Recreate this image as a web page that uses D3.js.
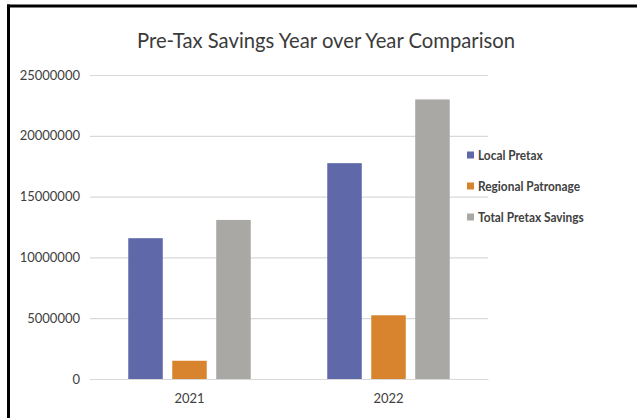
<!DOCTYPE html>
<html>
<head>
<meta charset="utf-8">
<script src="https://cdn.jsdelivr.net/npm/d3@7"></script>
<style>
  html, body { margin: 0; padding: 0; background: #fff; }
  svg { display: block; }
  text { font-family: Lato, "Open Sans", sans-serif; }
</style>
</head>
<body>
<svg id="chart" width="637" height="418"></svg>
<script>
// Savings by year, per series
const years = ["2021", "2022"];
const seriesNames = ["Local Pretax", "Regional Patronage", "Total Pretax Savings"];
const localPretax = [11580000, 17750000];
const regionalPatronage = [1500000, 5240000];
const totalPretaxSavings = [13080000, 22990000];
const yTicks = [0, 5000000, 10000000, 15000000, 20000000, 25000000];
const colors = ["#5f69aa", "#d8842f", "#aaa8a4"];

const seriesValues = [localPretax, regionalPatronage, totalPretaxSavings];
const rows = years.map((y, i) => ({
  year: y,
  values: seriesNames.map((s, j) => ({ key: s, value: seriesValues[j][i] }))
}));

const svg = d3.select("#chart");
const W = 637, H = 418;
const plot = { left: 90, right: 488, top: 75, bottom: 379 };

svg.append("rect").attr("width", W).attr("height", H).attr("fill", "#fff");

// frame edges (top and left)
svg.append("line").attr("x1", 7).attr("x2", W).attr("y1", 6).attr("y2", 6)
  .attr("stroke", "#000").attr("stroke-width", 3);
svg.append("line").attr("x1", 8.5).attr("x2", 8.5).attr("y1", 4.5).attr("y2", H)
  .attr("stroke", "#000").attr("stroke-width", 3);

const y = d3.scaleLinear().domain([0, 25000000]).range([plot.bottom, plot.top]);
const x0 = d3.scaleBand().domain(years).range([plot.left, plot.right]).padding(0);
const x1 = d3.scaleBand().domain(seriesNames).range([0, x0.bandwidth()])
  .paddingInner(0.215).paddingOuter(0.87);

// gridlines + y labels
const yAxis = d3.axisLeft(y).tickValues(yTicks).tickFormat(d3.format("d"))
  .tickSize(-(plot.right - plot.left)).tickPadding(10);
const gy = svg.append("g").attr("transform", `translate(${plot.left},0)`).call(yAxis);
gy.select(".domain").remove();
gy.selectAll(".tick line").attr("stroke", "#d9d9d9").attr("stroke-width", 1.2);
gy.selectAll(".tick text").attr("fill", "#404040").attr("font-size", 13)
  .attr("x", -10);

// bars
const groups = svg.append("g").selectAll("g").data(rows).join("g")
  .attr("transform", d => `translate(${x0(d.year)},0)`);
groups.selectAll("rect").data(d => d.values).join("rect")
  .attr("x", d => x1(d.key))
  .attr("width", x1.bandwidth())
  .attr("y", d => y(d.value))
  .attr("height", d => y(0) - y(d.value))
  .attr("fill", (d, i) => colors[i]);

// baseline + category labels
const xAxis = d3.axisBottom(x0).tickSize(0).tickPadding(15);
const gx = svg.append("g").attr("transform", `translate(0,${plot.bottom})`).call(xAxis);
gx.select(".domain").attr("stroke", "#d9d9d9").attr("stroke-width", 1.2);
gx.selectAll(".tick text").attr("fill", "#404040").attr("font-size", 13);

// title
const title = svg.append("text")
  .attr("x", 326).attr("y", 48)
  .attr("text-anchor", "middle")
  .attr("font-family", "'Open Sans', Lato, sans-serif")
  .attr("font-size", 21)
  .attr("fill", "#3b3b3b")
  .text("Pre-Tax Savings Year over Year Comparison");
const tl = title.node().getComputedTextLength();
title.attr("textLength", 378).attr("lengthAdjust", "spacingAndGlyphs");

// legend
const legend = svg.append("g").attr("transform", "translate(467,155)");
const items = legend.selectAll("g").data(seriesNames).join("g")
  .attr("transform", (d, i) => `translate(0,${i * 31})`);
items.append("rect").attr("x", 0).attr("y", -3.5).attr("width", 7).attr("height", 7)
  .attr("fill", (d, i) => colors[i]);
items.append("text").attr("x", 11).attr("y", 0).attr("dy", "0.36em")
  .attr("font-size", 12.5).attr("font-weight", 700).attr("fill", "#404040")
  .text(d => d)
  .each(function () {
    const len = this.getComputedTextLength();
    d3.select(this).attr("textLength", len * 0.95).attr("lengthAdjust", "spacingAndGlyphs");
  });
</script>
</body>
</html>
